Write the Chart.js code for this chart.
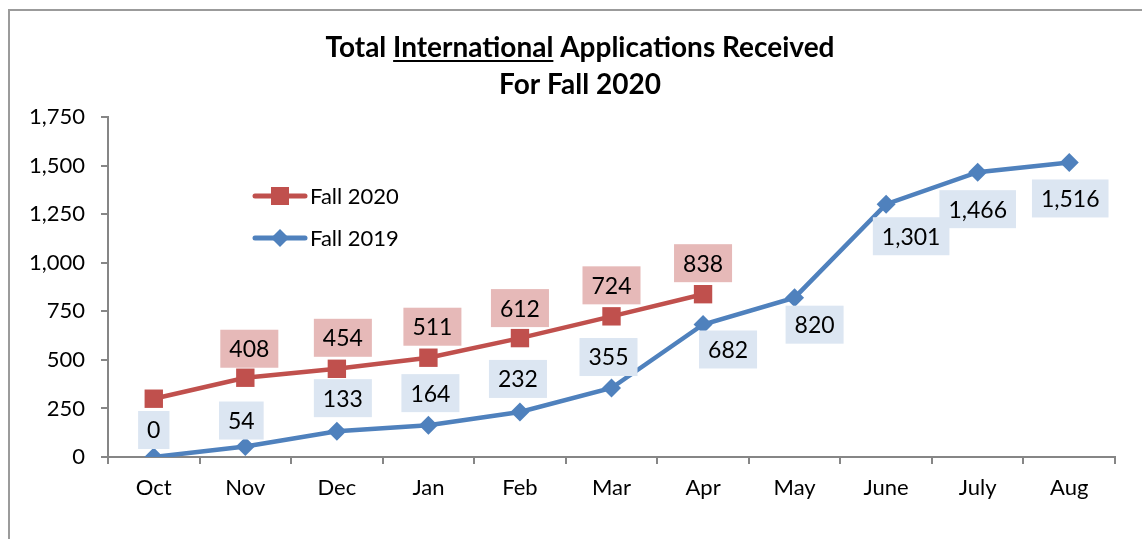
<!DOCTYPE html>
<html>
<head>
<meta charset="utf-8">
<script src="https://cdn.jsdelivr.net/npm/chart.js@4.4.1/dist/chart.umd.min.js"></script>
<style>
  html, body { margin: 0; padding: 0; background: #fff; }
  #wrap { position: relative; width: 1142px; height: 539px; }
</style>
</head>
<body>
<div id="wrap"><canvas id="appsChart" width="1142" height="539"></canvas></div>
<script>
// data
const months   = ['Oct', 'Nov', 'Dec', 'Jan', 'Feb', 'Mar', 'Apr', 'May', 'June', 'July', 'Aug'];
const fall2020 = [300, 408, 454, 511, 612, 724, 838, null, null, null, null];
const fall2019 = [0, 54, 133, 164, 232, 355, 682, 820, 1301, 1466, 1516];
const yTicks   = [0, 250, 500, 750, 1000, 1250, 1500, 1750];

// where each data label sits relative to its point (dx, dy), null = no label
const labelPos2020 = [null, [4, -29], [6, -31], [4, -31], [0, -30], [0, -31], [0, -31], null, null, null, null];
const labelPos2019 = [[0, -27], [-4, -26], [6, -33], [2, -32], [-2, -33], [-3, -31], [25, 25], [20, 27], [25, 32], [0, 37], [1, 36]];

const RED  = '#C0504D';
const BLUE = '#4F81BD';
const FONT = 'Lato, Carlito, "Open Sans", sans-serif';

const fmt = v => v.toLocaleString('en-US');

const framePlugin = {
  id: 'frame',
  beforeDraw(chart) {
    const c = chart.ctx;
    c.save();
    c.strokeStyle = '#9b9b9b';
    c.lineWidth = 2;
    c.beginPath();
    c.moveTo(9, 600);
    c.lineTo(9, 10);
    c.lineTo(1150, 10);
    c.stroke();

    // title, with underlined word
    c.fillStyle = '#000';
    c.font = 'bold 28px ' + FONT;
    c.textBaseline = 'alphabetic';
    const parts = ['Total ', 'International', ' Applications Received'];
    const widths = parts.map(p => c.measureText(p).width);
    const total = widths.reduce((a, b) => a + b, 0);
    let x = 580 - total / 2;
    const base1 = 57;
    parts.forEach((p, i) => {
      c.textAlign = 'left';
      c.fillText(p, x, base1);
      if (i === 1) {
        c.fillRect(x, base1 + 3, widths[i], 2);
      }
      x += widths[i];
    });
    c.textAlign = 'center';
    c.fillText('For Fall 2020', 580, 94);
    c.restore();
  }
};

const labelPlugin = {
  id: 'pointLabels',
  afterDatasetsDraw(chart) {
    const c = chart.ctx;
    const cfg = [
      { pos: labelPos2020, bg: '#E6B9B8' },
      { pos: labelPos2019, bg: '#DCE6F2' }
    ];
    c.save();
    c.font = '23px ' + FONT;
    c.textAlign = 'center';
    c.textBaseline = 'middle';
    chart.data.datasets.forEach((ds, di) => {
      const meta = chart.getDatasetMeta(di);
      meta.data.forEach((pt, i) => {
        const p = cfg[di].pos[i];
        const v = ds.data[i];
        if (!p || v === null) return;
        const txt = fmt(v);
        const w = c.measureText(txt).width + 18;
        const h = 38;
        const cx = pt.x + p[0], cy = pt.y + p[1];
        c.fillStyle = cfg[di].bg;
        c.fillRect(cx - w / 2, cy - h / 2, w, h);
        c.fillStyle = '#000';
        c.fillText(txt, cx, cy + 1);
      });
    });

    // legend inside the plot
    const items = [
      { text: 'Fall 2020', color: RED, y: 196, shape: 'square' },
      { text: 'Fall 2019', color: BLUE, y: 238, shape: 'diamond' }
    ];
    c.font = '22px ' + FONT;
    c.textAlign = 'left';
    items.forEach(it => {
      c.strokeStyle = it.color;
      c.lineWidth = 5;
      c.lineCap = 'round';
      c.beginPath();
      c.moveTo(255, it.y);
      c.lineTo(305, it.y);
      c.stroke();
      c.fillStyle = it.color;
      if (it.shape === 'square') {
        c.fillRect(271, it.y - 9, 18, 18);
      } else {
        c.beginPath();
        c.moveTo(280, it.y - 9);
        c.lineTo(289, it.y);
        c.lineTo(280, it.y + 9);
        c.lineTo(271, it.y);
        c.closePath();
        c.fill();
      }
      c.fillStyle = '#000';
      c.fillText(it.text, 310, it.y + 1);
    });
    c.restore();
  }
};

const ctx = document.getElementById('appsChart').getContext('2d');
new Chart(ctx, {
  type: 'line',
  data: {
    labels: months,
    datasets: [
      {
        label: 'Fall 2020', data: fall2020,
        borderColor: RED, backgroundColor: RED, borderWidth: 4.5,
        pointStyle: 'rect', pointRadius: 13, pointBorderWidth: 0,
        pointBackgroundColor: RED, tension: 0, spanGaps: false
      },
      {
        label: 'Fall 2019', data: fall2019,
        borderColor: BLUE, backgroundColor: BLUE, borderWidth: 4.5,
        pointStyle: 'rectRot', pointRadius: 9.5, pointBorderWidth: 0,
        pointBackgroundColor: BLUE, tension: 0
      }
    ]
  },
  options: {
    responsive: false,
    animation: false,
    layout: { padding: { top: 117, right: 27, bottom: 0, left: 0 } },
    plugins: {
      legend: { display: false },
      title: { display: false },
      tooltip: { enabled: false }
    },
    scales: {
      x: {
        offset: true,
        grid: { offset: true, drawOnChartArea: false, drawTicks: true, tickLength: 7, color: '#868686', lineWidth: 2 },
        border: { color: '#868686', width: 2 },
        ticks: { color: '#000', font: { family: FONT, size: 22 }, padding: 11, maxRotation: 0 },
        afterFit(scale) { scale.height = 82; }
      },
      y: {
        min: 0, max: 1750,
        afterBuildTicks(scale) { scale.ticks = yTicks.map(v => ({ value: v })); },
        grid: { drawOnChartArea: false, drawTicks: true, tickLength: 7, color: '#868686', lineWidth: 2 },
        border: { color: '#868686', width: 2 },
        ticks: { color: '#000', font: { family: FONT, size: 22 }, padding: 16, callback: v => fmt(v) },
        afterFit(scale) { scale.width = 108; }
      }
    }
  },
  plugins: [framePlugin, labelPlugin]
});
</script>
</body>
</html>
